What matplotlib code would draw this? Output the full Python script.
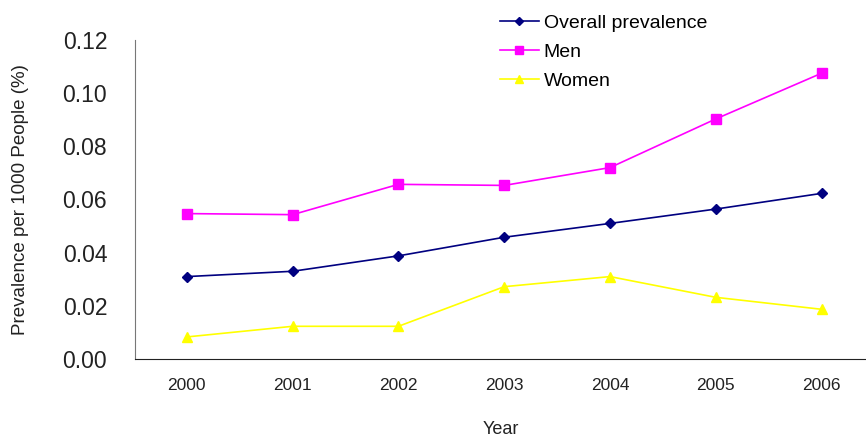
import numpy as np
import matplotlib.pyplot as plt

plt.rcParams['font.family'] = ['Liberation Sans', 'DejaVu Sans']

# --- data ---
years = ['2000', '2001', '2002', '2003', '2004', '2005', '2006']
overall = [0.031, 0.033, 0.0388, 0.0458, 0.0510, 0.0564, 0.0623]
men = [0.0547, 0.0543, 0.0657, 0.0653, 0.0720, 0.0903, 0.1075]
women = [0.0083, 0.0123, 0.0123, 0.0272, 0.0310, 0.0232, 0.0187]

x = np.arange(len(years))

fig = plt.figure(figsize=(8.66, 4.38), dpi=100)
ax = fig.add_axes([135 / 866, 79 / 438, 1 - 135 / 866, 319 / 438])

ax.plot(x, overall, '-', color='#000080', marker='D', markersize=5.5, lw=1.2,
        label='Overall prevalence')
ax.plot(x, men, '-', color='#FF00FF', marker='s', markersize=7, lw=1.2,
        label='Men')
ax.plot(x, women, '-', color='#FFFF00', marker='^', markersize=7, lw=1.2,
        label='Women')

ax.set_xlim(-0.49, 6.42)
ax.set_ylim(0, 0.12)
ax.set_yticks(np.arange(0, 0.121, 0.02))
ax.set_yticklabels([f'{v:.2f}' for v in np.arange(0, 0.121, 0.02)], fontsize=16.5)
ax.set_xticks(x)
ax.set_xticklabels(years, fontsize=12.5)
ax.tick_params(length=0, colors='#222222')
ax.tick_params(axis='y', pad=20)
ax.tick_params(axis='x', pad=14)

for s in ['top', 'right']:
    ax.spines[s].set_visible(False)
ax.spines['left'].set_color('#777777')
ax.spines['bottom'].set_color('#222222')

ax.set_ylabel('Prevalence per 1000 People (%)', fontsize=13.5, color='#222222', labelpad=24)
ax.set_xlabel('Year', fontsize=13, color='#222222', labelpad=20)

ax.legend(loc='upper left', bbox_to_anchor=(500 / 866, 1 - 14 / 438),
          bbox_transform=fig.transFigure, frameon=False, fontsize=14,
          handlelength=2.0, handletextpad=0.25, labelspacing=0.6,
          borderpad=0, borderaxespad=0, markerscale=0.8)

fig.savefig('out.png', dpi=100)
